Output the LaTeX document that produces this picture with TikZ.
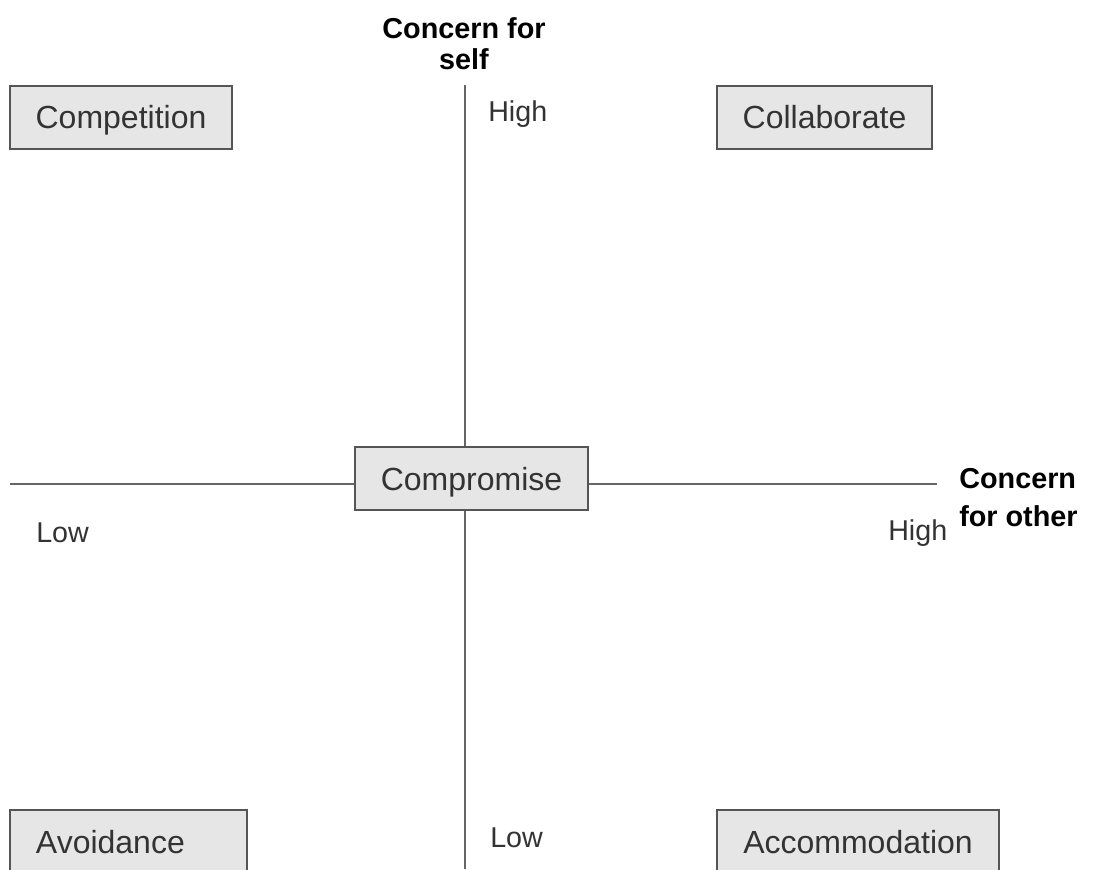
\documentclass[tikz,border=0pt]{standalone}
\usepackage{fontspec}
\setmainfont{Liberation Sans}
\definecolor{boxfill}{HTML}{E6E6E6}
\definecolor{boxline}{HTML}{555555}
\definecolor{axisline}{HTML}{666666}
\definecolor{labeltext}{HTML}{333333}
\tikzset{
  style/.style={draw=boxline, fill=boxfill, line width=1.5pt, text=labeltext,
    inner xsep=19.5pt, inner ysep=0pt, minimum height=47.25pt, text depth=0pt,
    font=\fontsize{24}{28}\selectfont},
  axis/.style={draw=axisline, line width=1.5pt},
  level/.style={anchor=west, inner sep=0pt, text=labeltext,
    font=\fontsize{21.5}{26}\selectfont},
  title/.style={inner sep=0pt, text=black, font=\bfseries\fontsize{21.6}{24}\selectfont}
}
\begin{document}
\begin{tikzpicture}[x=0.75pt,y=-0.75pt]
                % Marco
                \clip (0,0) rectangle (1093,869);
                \fill[white] (0,0) rectangle (1093,869);

                % Estilos de conflicto
                \node[style] (competition) at (121,117) {Competition};
                \node[style] (collaborate) at (824.5,117) {Collaborate};
                \node[style] (compromise) at (471.5,478.5) {Compromise};
                \node[style, text width=138.75pt, align=left] (avoidance) at (128.5,841.5) {Avoidance};
                \node[style] (accommodation) at (858,841.5) {Accommodation};

                % Ejes
                \coordinate (selftop) at (465,85);
                \coordinate (selfbottom) at (465,869);
                \coordinate (otherleft) at (10,484);
                \coordinate (otherright) at (937,484);
                \draw[axis] (selftop) -- (selftop |- compromise.north);
                \draw[axis] (selftop |- compromise.south) -- (selfbottom);
                \draw[axis] (otherleft) -- (otherleft -| compromise.west);
                \draw[axis] (otherleft -| compromise.east) -- (otherright);

                % Niveles
                \node[level] (highself) at (488,114) {High};
                \node[level] (lowself) at (490,838) {Low};
                \node[level] (lowother) at (36,533) {Low};
                \node[level] (highother) at (888,533) {High};

                % Títulos de los ejes
                \node[title, align=center] (selftitle) at (464,44) {Concern for\\[-1pt]self};
                \node[title, align=left, anchor=west, font=\bfseries\fontsize{21.6}{29}\selectfont] (othertitle) at (959,497.5) {Concern\\for other};
            \end{tikzpicture}
\end{document}
